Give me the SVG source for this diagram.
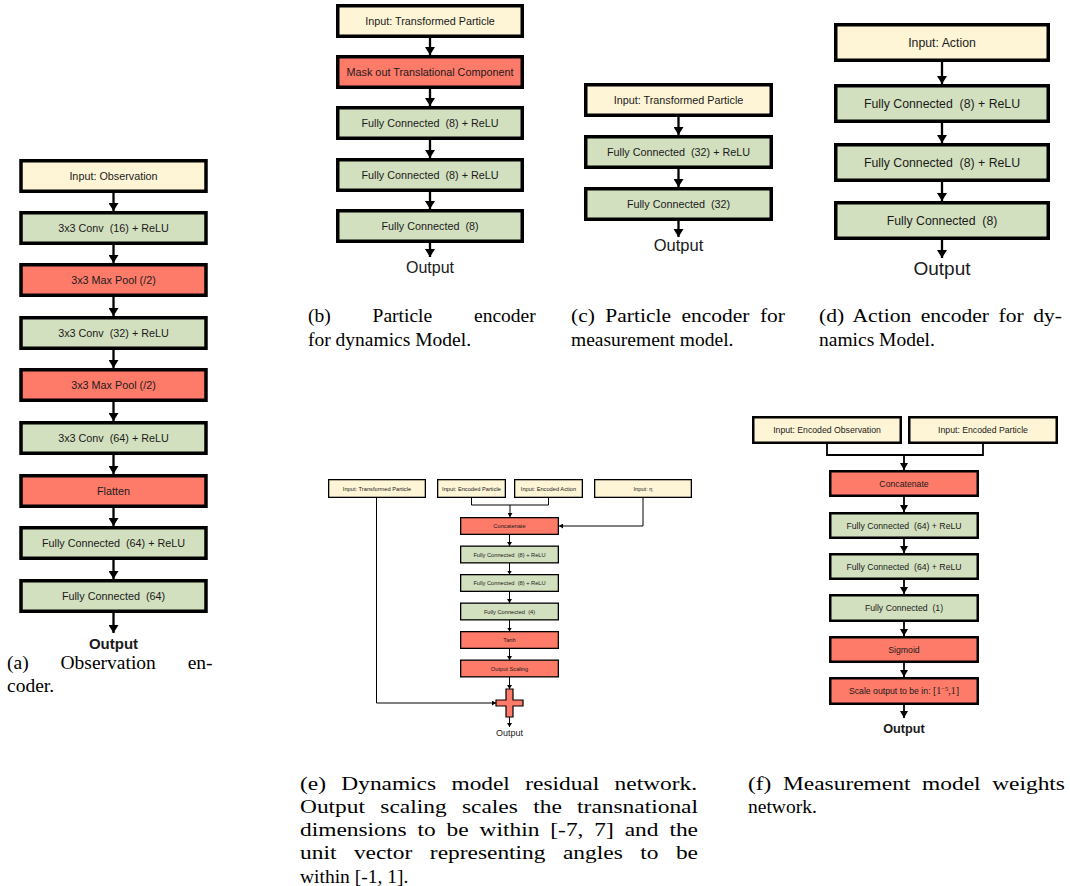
<svg xmlns="http://www.w3.org/2000/svg" width="1070" height="886" viewBox="0 0 1070 886">
<defs>
<style>
text{font-family:"Liberation Sans",Arial,sans-serif;fill:#1a1a1a;text-anchor:middle;white-space:pre}
.cap{font-family:"Liberation Serif","Times New Roman",serif;font-size:19.5px;text-anchor:start;fill:#000;white-space:normal}
.in{fill:#FEF5D6}
.gr{fill:#D3E0BF}
.rd{fill:#FE7B6A}
.L rect{stroke:#000;stroke-width:3.5}
.L text{font-size:10.8px}
.D text{font-size:12.3px}
.E rect{stroke:#000;stroke-width:1.3}
.E text{font-size:5.7px}
.F rect{stroke:#000;stroke-width:2.5}
.F text{font-size:8.7px}
.cl{fill:none;stroke:#000;stroke-width:2.3}
.cm{fill:none;stroke:#000;stroke-width:1.8}
.cs{fill:none;stroke:#000;stroke-width:1}
.al{marker-end:url(#aL)}
.am{marker-end:url(#aM)}
.as{marker-end:url(#aS)}
</style>
<marker id="aL" markerUnits="userSpaceOnUse" viewBox="0 0 8 10" refX="8" refY="5" markerWidth="8" markerHeight="10" orient="auto"><path d="M0,0L8,5L0,10z" fill="#000"/></marker>
<marker id="aM" markerUnits="userSpaceOnUse" viewBox="0 0 7 8" refX="7" refY="4" markerWidth="7" markerHeight="8" orient="auto"><path d="M0,0L7,4L0,8z" fill="#000"/></marker>
<marker id="aS" markerUnits="userSpaceOnUse" viewBox="0 0 4 5" refX="4" refY="2.5" markerWidth="4" markerHeight="5" orient="auto"><path d="M0,0L4,2.5L0,5z" fill="#000"/></marker>
</defs>
<rect width="1070" height="886" fill="#fff"/>

<!-- Panel (a) -->
<g class="L">
<g id="a1"><rect class="in" x="21" y="160.75" width="185" height="30.5"/><text x="113.5" y="179.8">Input: Observation</text></g>
<g id="a2"><rect class="gr" x="21" y="212.75" width="185" height="30.5"/><text x="113.5" y="231.8">3x3 Conv  (16) + ReLU</text></g>
<g id="a3"><rect class="rd" x="21" y="264.75" width="185" height="30.5"/><text x="113.5" y="283.8">3x3 Max Pool (/2)</text></g>
<g id="a4"><rect class="gr" x="21" y="317.75" width="185" height="30.5"/><text x="113.5" y="336.8">3x3 Conv  (32) + ReLU</text></g>
<g id="a5"><rect class="rd" x="21" y="369.75" width="185" height="30.5"/><text x="113.5" y="388.8">3x3 Max Pool (/2)</text></g>
<g id="a6"><rect class="gr" x="21" y="422.75" width="185" height="30.5"/><text x="113.5" y="441.8">3x3 Conv  (64) + ReLU</text></g>
<g id="a7"><rect class="rd" x="21" y="475.75" width="185" height="30.5"/><text x="113.5" y="494.8">Flatten</text></g>
<g id="a8"><rect class="gr" x="21" y="527.75" width="185" height="30.5"/><text x="113.5" y="546.8">Fully Connected  (64) + ReLU</text></g>
<g id="a9"><rect class="gr" x="21" y="580.75" width="185" height="30.5"/><text x="113.5" y="599.8">Fully Connected  (64)</text></g>
</g>
<text id="aout" x="113.5" y="649" style="font-size:15px;font-weight:bold">Output</text>

<!-- Panel (b) -->
<g class="L">
<g id="b1"><rect class="in" x="337.75" y="5.75" width="184.5" height="30.5"/><text x="430" y="24.8">Input: Transformed Particle</text></g>
<g id="b2"><rect class="rd" x="337.75" y="56.75" width="184.5" height="30.5"/><text x="430" y="75.8">Mask out Translational Component</text></g>
<g id="b3"><rect class="gr" x="337.75" y="107.75" width="184.5" height="30.5"/><text x="430" y="126.8">Fully Connected  (8) + ReLU</text></g>
<g id="b4"><rect class="gr" x="337.75" y="159.75" width="184.5" height="30.5"/><text x="430" y="178.8">Fully Connected  (8) + ReLU</text></g>
<g id="b5"><rect class="gr" x="337.75" y="210.75" width="184.5" height="30.5"/><text x="430" y="229.8">Fully Connected  (8)</text></g>
</g>
<text id="bout" x="430" y="273" style="font-size:16px">Output</text>

<!-- Panel (c) -->
<g class="L">
<g id="c1"><rect class="in" x="585.75" y="84.75" width="185.5" height="30.5"/><text x="678.5" y="103.8">Input: Transformed Particle</text></g>
<g id="c2"><rect class="gr" x="585.75" y="136.75" width="185.5" height="30.5"/><text x="678.5" y="155.8">Fully Connected  (32) + ReLU</text></g>
<g id="c3"><rect class="gr" x="585.75" y="188.75" width="185.5" height="30.5"/><text x="678.5" y="207.8">Fully Connected  (32)</text></g>
</g>
<text id="cout" x="678.5" y="251" style="font-size:16.5px">Output</text>

<!-- Panel (d) -->
<g class="L D">
<g id="d1"><rect class="in" x="835.75" y="24.75" width="212.5" height="35.5"/><text x="942" y="46.8">Input: Action</text></g>
<g id="d2"><rect class="gr" x="835.75" y="85.75" width="212.5" height="35.5"/><text x="942" y="107.8">Fully Connected  (8) + ReLU</text></g>
<g id="d3"><rect class="gr" x="835.75" y="144.75" width="212.5" height="35.5"/><text x="942" y="166.8">Fully Connected  (8) + ReLU</text></g>
<g id="d4"><rect class="gr" x="835.75" y="202.75" width="212.5" height="35.5"/><text x="942" y="224.8">Fully Connected  (8)</text></g>
</g>
<text id="dout" x="942" y="275" style="font-size:19px">Output</text>

<!-- Panel (e) -->
<g class="E">
<g id="e_tp"><rect class="in" x="328.65" y="479.65" width="96.7" height="17.7"/><text x="377" y="490.5">Input: Transformed Particle</text></g>
<g id="e_ep"><rect class="in" x="437.65" y="479.65" width="67.7" height="17.7"/><text x="471.5" y="490.5">Input: Encoded Particle</text></g>
<g id="e_ea"><rect class="in" x="514.65" y="479.65" width="67.7" height="17.7"/><text x="548.5" y="490.5">Input: Encoded Action</text></g>
<g id="e_eta"><rect class="in" x="594.65" y="479.65" width="96.7" height="17.7"/><text x="643" y="490.5">Input: η</text></g>
<g id="e1"><rect class="rd" x="460.65" y="517.65" width="97.7" height="16.7"/><text x="509.5" y="528">Concatenate</text></g>
<g id="e2"><rect class="gr" x="460.65" y="546.15" width="97.7" height="16.7"/><text x="509.5" y="556.5">Fully Connected  (8) + ReLU</text></g>
<g id="e3"><rect class="gr" x="460.65" y="574.65" width="97.7" height="16.7"/><text x="509.5" y="585">Fully Connected  (8) + ReLU</text></g>
<g id="e4"><rect class="gr" x="460.65" y="603.15" width="97.7" height="16.7"/><text x="509.5" y="613.5">Fully Connected  (4)</text></g>
<g id="e5"><rect class="rd" x="460.65" y="631.65" width="97.7" height="16.7"/><text x="509.5" y="642">Tanh</text></g>
<g id="e6"><rect class="rd" x="460.65" y="660.15" width="97.7" height="16.7"/><text x="509.5" y="670.5">Output Scaling</text></g>
<g id="e_plus"><path class="rd" d="M506,689H513V700H523V706H513V717H506V706H496V700H506z" stroke="#000" stroke-width="1.2"/></g>
</g>
<text id="eout" x="509.5" y="736" style="font-size:9px">Output</text>

<!-- Panel (f) -->
<g class="F">
<g id="f_eo"><rect class="in" x="753.25" y="417.25" width="147.5" height="25.5"/><text x="827" y="433">Input: Encoded Observation</text></g>
<g id="f_ep"><rect class="in" x="909.25" y="417.25" width="147.5" height="25.5"/><text x="983" y="433">Input: Encoded Particle</text></g>
<g id="f1"><rect class="rd" x="830.25" y="471.25" width="147.5" height="24.5"/><text x="904" y="486.5">Concatenate</text></g>
<g id="f2"><rect class="gr" x="830.25" y="513.25" width="147.5" height="24.5"/><text x="904" y="528.5">Fully Connected  (64) + ReLU</text></g>
<g id="f3"><rect class="gr" x="830.25" y="554.25" width="147.5" height="24.5"/><text x="904" y="569.5">Fully Connected  (64) + ReLU</text></g>
<g id="f4"><rect class="gr" x="830.25" y="595.25" width="147.5" height="25.5"/><text x="904" y="611">Fully Connected  (1)</text></g>
<g id="f5"><rect class="rd" x="830.25" y="637.25" width="147.5" height="24.5"/><text x="904" y="652.5">Sigmoid</text></g>
<g id="f6"><rect class="rd" x="830.25" y="678.25" width="147.5" height="25.5"/><text x="904" y="694">Scale output to be in: <tspan style="font-family:'Liberation Serif',serif;font-size:10px">[1</tspan><tspan style="font-family:'Liberation Serif',serif;font-size:6.5px" dy="-3.5">−5</tspan><tspan style="font-family:'Liberation Serif',serif;font-size:10px" dy="3.5">,1]</tspan></text></g>
</g>
<text id="fout" x="904" y="733" style="font-size:12.7px;font-weight:bold">Output</text>

<!-- Connectors -->
<g id="connectors">
<g class="cl al">
<path d="M113.5,193V211"/><path d="M113.5,245V263"/><path d="M113.5,297V316"/><path d="M113.5,350V368"/><path d="M113.5,402V421"/><path d="M113.5,455V474"/><path d="M113.5,508V526"/><path d="M113.5,560V579"/><path d="M113.5,613V633"/>
<path d="M430,38V55"/><path d="M430,89V106"/><path d="M430,140V158"/><path d="M430,192V209"/><path d="M430,243V257"/>
<path d="M678.5,117V135"/><path d="M678.5,169V187"/><path d="M678.5,221V237"/>
<path d="M942,62V84"/><path d="M942,123V143"/><path d="M942,182V201"/><path d="M942,240V258"/>
</g>
<g class="cs as">
<path d="M471.5,498V505H548.5V498" style="marker-end:none"/>
<path d="M510,505V517"/>
<path d="M643,498V526H559"/>
<path d="M376.5,498V703H496"/>
<path d="M509.5,534V546"/><path d="M509.5,563V574.5"/><path d="M509.5,591.5V603"/><path d="M509.5,620V631.5"/><path d="M509.5,648.5V660"/><path d="M509.5,677V689"/><path d="M509.5,717V727"/>
</g>
<g class="cm am">
<path d="M827,444V455H983V444" style="marker-end:none"/>
<path d="M904,455V470"/>
<path d="M904,497V512"/><path d="M904,539V553"/><path d="M904,580V594"/><path d="M904,622V636"/><path d="M904,663V677"/><path d="M904,705V718"/>
</g>
</g>

<!-- Captions -->
<g id="captions">
<text class="cap" x="7" y="669" style="word-spacing:27px">(a) Observation en-</text>
<text class="cap" x="7" y="692">coder.</text>
<text class="cap" x="308" y="322" style="word-spacing:37px">(b) Particle encoder</text>
<text class="cap" x="308" y="346">for dynamics Model.</text>
<text class="cap" x="571" y="322" style="word-spacing:4.7px" textLength="214" lengthAdjust="spacingAndGlyphs">(c) Particle encoder for</text>
<text class="cap" x="571" y="346">measurement model.</text>
<text class="cap" x="819" y="322" style="word-spacing:3.8px" textLength="243" lengthAdjust="spacingAndGlyphs">(d) Action encoder for dy-</text>
<text class="cap" x="819" y="346">namics Model.</text>
<text class="cap" x="300" y="789.5" style="word-spacing:8px" textLength="397" lengthAdjust="spacingAndGlyphs">(e) Dynamics model residual network.</text>
<text class="cap" x="300" y="812.8" style="word-spacing:7.9px" textLength="398" lengthAdjust="spacingAndGlyphs">Output scaling scales the transnational</text>
<text class="cap" x="300" y="836.1" style="word-spacing:4.2px" textLength="398" lengthAdjust="spacingAndGlyphs">dimensions to be within [-7, 7] and the</text>
<text class="cap" x="300" y="859.4" style="word-spacing:9.7px" textLength="398" lengthAdjust="spacingAndGlyphs">unit vector representing angles to be</text>
<text class="cap" x="300" y="882.7">within [-1, 1].</text>
<text class="cap" x="748" y="789.5" style="word-spacing:4.8px" textLength="317" lengthAdjust="spacingAndGlyphs">(f) Measurement model weights</text>
<text class="cap" x="748" y="812.8">network.</text>
</g>
</svg>
